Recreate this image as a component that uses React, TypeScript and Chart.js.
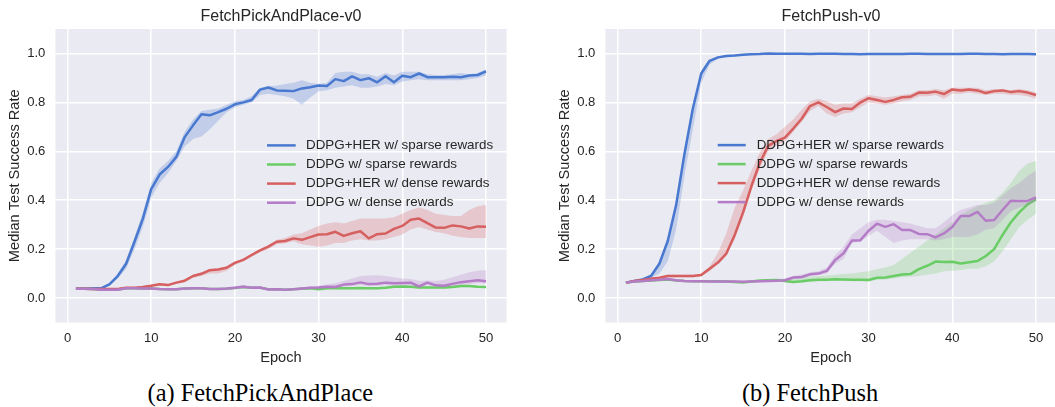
import React, { useEffect, useRef } from 'react';
import { Chart, registerables } from 'chart.js';

Chart.register(...registerables);

const SANS = "'Liberation Sans', Arial, Helvetica, sans-serif";
const SERIF = "'Liberation Serif', 'Times New Roman', Times, serif";
const TEXT = '#262626';

// ---------- data ----------
const epochs = Array.from({ length: 50 }, (_, i) => i + 1);
const seriesLabels = [
  'DDPG+HER w/ sparse rewards',
  'DDPG w/ sparse rewards',
  'DDPG+HER w/ dense rewards',
  'DDPG w/ dense rewards',
];
const seriesColors = ['#4878CF', '#6ACC65', '#D65F5F', '#B47CC7'];
const xTickValues = [0, 10, 20, 30, 40, 50];
const yTickValues = [0, 0.2, 0.4, 0.6, 0.8, 1.0];
const panelTitles = ['FetchPickAndPlace-v0', 'FetchPush-v0'];
const panelCaptions = ['(a) FetchPickAndPlace', '(b) FetchPush'];
const xAxisLabel = 'Epoch';
const yAxisLabel = 'Median Test Success Rate';

// FetchPickAndPlace
const pickHerSparse = [
  0.039, 0.040, 0.040, 0.040, 0.056, 0.090, 0.140, 0.230, 0.325, 0.445,
  0.505, 0.536, 0.577, 0.658, 0.706, 0.751, 0.747, 0.760, 0.774, 0.792,
  0.800, 0.810, 0.852, 0.861, 0.849, 0.848, 0.846, 0.857, 0.862, 0.869,
  0.867, 0.895, 0.887, 0.906, 0.891, 0.899, 0.882, 0.907, 0.882, 0.909,
  0.903, 0.918, 0.903, 0.903, 0.903, 0.905, 0.903, 0.910, 0.912, 0.927,
];
const pickHerSparseLo = [
  0.036, 0.037, 0.037, 0.037, 0.050, 0.080, 0.120, 0.200, 0.290, 0.410,
  0.470, 0.510, 0.560, 0.620, 0.650, 0.660, 0.690, 0.725, 0.760, 0.780,
  0.790, 0.800, 0.830, 0.835, 0.830, 0.825, 0.815, 0.790, 0.820, 0.845,
  0.850, 0.860, 0.865, 0.870, 0.860, 0.860, 0.865, 0.875, 0.870, 0.885,
  0.890, 0.895, 0.890, 0.890, 0.890, 0.890, 0.890, 0.895, 0.900, 0.910,
];
const pickHerSparseHi = [
  0.042, 0.043, 0.043, 0.044, 0.060, 0.100, 0.155, 0.250, 0.350, 0.470,
  0.530, 0.560, 0.600, 0.680, 0.730, 0.765, 0.770, 0.775, 0.790, 0.805,
  0.810, 0.825, 0.860, 0.867, 0.868, 0.875, 0.880, 0.890, 0.880, 0.875,
  0.880, 0.920, 0.925, 0.925, 0.915, 0.915, 0.905, 0.920, 0.910, 0.925,
  0.925, 0.925, 0.915, 0.912, 0.912, 0.915, 0.920, 0.915, 0.920, 0.935,
];
const pickDdpgSparse = [
  0.038, 0.038, 0.037, 0.035, 0.035, 0.035, 0.040, 0.040, 0.039, 0.039,
  0.037, 0.036, 0.036, 0.039, 0.040, 0.040, 0.037, 0.037, 0.038, 0.041,
  0.045, 0.042, 0.042, 0.036, 0.036, 0.034, 0.036, 0.038, 0.040, 0.036,
  0.040, 0.040, 0.040, 0.040, 0.041, 0.040, 0.040, 0.042, 0.046, 0.047,
  0.046, 0.043, 0.043, 0.043, 0.043, 0.045, 0.049, 0.049, 0.046, 0.045,
];
const pickDdpgSparseLo = [
  0.035, 0.035, 0.034, 0.032, 0.032, 0.032, 0.036, 0.036, 0.036, 0.036,
  0.034, 0.033, 0.033, 0.035, 0.036, 0.036, 0.034, 0.034, 0.035, 0.037,
  0.040, 0.038, 0.038, 0.033, 0.033, 0.031, 0.033, 0.034, 0.036, 0.033,
  0.036, 0.036, 0.036, 0.036, 0.037, 0.036, 0.036, 0.038, 0.042, 0.043,
  0.042, 0.039, 0.039, 0.039, 0.039, 0.041, 0.044, 0.044, 0.042, 0.041,
];
const pickDdpgSparseHi = [
  0.041, 0.041, 0.040, 0.038, 0.038, 0.038, 0.043, 0.043, 0.042, 0.042,
  0.040, 0.039, 0.039, 0.042, 0.044, 0.044, 0.040, 0.040, 0.041, 0.045,
  0.050, 0.046, 0.046, 0.039, 0.039, 0.037, 0.039, 0.042, 0.044, 0.040,
  0.044, 0.044, 0.044, 0.044, 0.045, 0.044, 0.044, 0.046, 0.050, 0.051,
  0.050, 0.047, 0.047, 0.047, 0.047, 0.049, 0.054, 0.054, 0.050, 0.049,
];
const pickHerDense = [
  0.038, 0.038, 0.037, 0.037, 0.037, 0.037, 0.042, 0.042, 0.045, 0.050,
  0.056, 0.053, 0.063, 0.071, 0.090, 0.099, 0.114, 0.117, 0.124, 0.144,
  0.156, 0.176, 0.195, 0.210, 0.230, 0.233, 0.244, 0.238, 0.249, 0.260,
  0.261, 0.271, 0.254, 0.265, 0.273, 0.244, 0.261, 0.264, 0.283, 0.295,
  0.320, 0.325, 0.306, 0.288, 0.287, 0.297, 0.293, 0.284, 0.293, 0.291,
];
const pickHerDenseLo = [
  0.035, 0.035, 0.034, 0.034, 0.034, 0.034, 0.038, 0.038, 0.041, 0.046,
  0.052, 0.049, 0.058, 0.065, 0.082, 0.090, 0.100, 0.100, 0.112, 0.135,
  0.150, 0.168, 0.188, 0.200, 0.220, 0.224, 0.232, 0.220, 0.215, 0.210,
  0.215, 0.225, 0.225, 0.235, 0.240, 0.235, 0.235, 0.240, 0.250, 0.260,
  0.280, 0.290, 0.280, 0.270, 0.265, 0.255, 0.250, 0.245, 0.245, 0.245,
];
const pickHerDenseHi = [
  0.041, 0.041, 0.040, 0.040, 0.040, 0.040, 0.046, 0.046, 0.049, 0.054,
  0.060, 0.057, 0.067, 0.077, 0.095, 0.105, 0.120, 0.122, 0.130, 0.150,
  0.162, 0.182, 0.200, 0.218, 0.238, 0.245, 0.260, 0.265, 0.280, 0.295,
  0.305, 0.310, 0.305, 0.315, 0.325, 0.325, 0.325, 0.325, 0.330, 0.345,
  0.360, 0.370, 0.360, 0.345, 0.340, 0.335, 0.335, 0.360, 0.375, 0.380,
];
const pickDdpgDense = [
  0.038, 0.038, 0.037, 0.034, 0.034, 0.034, 0.040, 0.040, 0.039, 0.039,
  0.037, 0.036, 0.036, 0.039, 0.040, 0.040, 0.037, 0.037, 0.039, 0.042,
  0.046, 0.042, 0.043, 0.035, 0.036, 0.034, 0.036, 0.039, 0.042, 0.043,
  0.046, 0.045, 0.055, 0.057, 0.064, 0.057, 0.058, 0.063, 0.060, 0.062,
  0.063, 0.048, 0.063, 0.052, 0.050, 0.058, 0.065, 0.069, 0.073, 0.069,
];
const pickDdpgDenseLo = [
  0.035, 0.035, 0.034, 0.031, 0.031, 0.031, 0.036, 0.036, 0.036, 0.036,
  0.034, 0.033, 0.033, 0.035, 0.036, 0.036, 0.034, 0.034, 0.035, 0.038,
  0.041, 0.038, 0.039, 0.032, 0.033, 0.031, 0.033, 0.035, 0.038, 0.039,
  0.041, 0.040, 0.046, 0.048, 0.053, 0.048, 0.049, 0.052, 0.050, 0.052,
  0.052, 0.042, 0.052, 0.045, 0.044, 0.049, 0.054, 0.057, 0.060, 0.058,
];
const pickDdpgDenseHi = [
  0.041, 0.041, 0.040, 0.037, 0.037, 0.037, 0.044, 0.044, 0.042, 0.042,
  0.040, 0.039, 0.039, 0.042, 0.044, 0.044, 0.040, 0.040, 0.043, 0.048,
  0.053, 0.048, 0.049, 0.039, 0.039, 0.037, 0.039, 0.043, 0.047, 0.050,
  0.055, 0.060, 0.070, 0.080, 0.090, 0.092, 0.093, 0.090, 0.085, 0.080,
  0.078, 0.070, 0.072, 0.070, 0.075, 0.085, 0.095, 0.105, 0.112, 0.115,
];

// FetchPush
const pushHerSparse = [
  0.063, 0.070, 0.076, 0.090, 0.140, 0.233, 0.380, 0.590, 0.775, 0.918,
  0.970, 0.984, 0.990, 0.992, 0.995, 0.997, 0.998, 1.000, 0.999, 0.999,
  0.999, 0.999, 0.998, 0.999, 0.999, 0.999, 0.998, 0.998, 0.997, 0.998,
  0.998, 0.998, 0.998, 0.998, 0.999, 0.999, 0.998, 0.998, 0.998, 0.998,
  0.998, 0.999, 0.999, 0.998, 0.998, 0.997, 0.998, 0.998, 0.998, 0.997,
];
const pushHerSparseLo = [
  0.060, 0.066, 0.072, 0.082, 0.100, 0.150, 0.280, 0.500, 0.690, 0.880,
  0.955, 0.978, 0.986, 0.989, 0.992, 0.994, 0.995, 0.997, 0.996, 0.996,
  0.996, 0.996, 0.995, 0.996, 0.996, 0.996, 0.995, 0.995, 0.994, 0.995,
  0.995, 0.995, 0.995, 0.995, 0.996, 0.996, 0.995, 0.995, 0.995, 0.995,
  0.995, 0.996, 0.996, 0.995, 0.995, 0.994, 0.995, 0.995, 0.995, 0.994,
];
const pushHerSparseHi = [
  0.066, 0.074, 0.080, 0.096, 0.150, 0.245, 0.400, 0.610, 0.790, 0.930,
  0.975, 0.988, 0.993, 0.995, 0.998, 1.000, 1.000, 1.000, 1.000, 1.000,
  1.000, 1.000, 1.000, 1.000, 1.000, 1.000, 1.000, 1.000, 1.000, 1.000,
  1.000, 1.000, 1.000, 1.000, 1.000, 1.000, 1.000, 1.000, 1.000, 1.000,
  1.000, 1.000, 1.000, 1.000, 1.000, 1.000, 1.000, 1.000, 1.000, 1.000,
];
const pushDdpgSparse = [
  0.063, 0.068, 0.070, 0.072, 0.074, 0.076, 0.072, 0.070, 0.069, 0.069,
  0.069, 0.069, 0.068, 0.066, 0.064, 0.068, 0.072, 0.073, 0.074, 0.070,
  0.066, 0.069, 0.073, 0.075, 0.075, 0.077, 0.076, 0.075, 0.075, 0.074,
  0.083, 0.084, 0.090, 0.096, 0.098, 0.118, 0.132, 0.149, 0.147, 0.148,
  0.141, 0.146, 0.151, 0.172, 0.200, 0.258, 0.310, 0.350, 0.383, 0.404,
];
const pushDdpgSparseLo = [
  0.060, 0.065, 0.067, 0.069, 0.071, 0.073, 0.069, 0.067, 0.066, 0.066,
  0.066, 0.066, 0.065, 0.063, 0.061, 0.065, 0.069, 0.070, 0.071, 0.064,
  0.060, 0.063, 0.067, 0.069, 0.069, 0.071, 0.070, 0.069, 0.069, 0.068,
  0.075, 0.076, 0.080, 0.085, 0.087, 0.090, 0.095, 0.100, 0.110, 0.112,
  0.115, 0.120, 0.120, 0.130, 0.150, 0.190, 0.240, 0.290, 0.320, 0.345,
];
const pushDdpgSparseHi = [
  0.066, 0.071, 0.073, 0.075, 0.077, 0.079, 0.075, 0.073, 0.072, 0.072,
  0.072, 0.072, 0.071, 0.069, 0.067, 0.071, 0.075, 0.076, 0.078, 0.080,
  0.080, 0.085, 0.088, 0.090, 0.092, 0.095, 0.098, 0.100, 0.105, 0.110,
  0.118, 0.125, 0.135, 0.160, 0.185, 0.210, 0.235, 0.260, 0.285, 0.310,
  0.340, 0.360, 0.375, 0.390, 0.400, 0.430, 0.470, 0.520, 0.550, 0.560,
];
const pushHerDense = [
  0.063, 0.070, 0.074, 0.079, 0.083, 0.090, 0.090, 0.090, 0.090, 0.094,
  0.120, 0.145, 0.182, 0.258, 0.350, 0.458, 0.553, 0.622, 0.642, 0.656,
  0.693, 0.733, 0.785, 0.800, 0.781, 0.760, 0.775, 0.773, 0.799, 0.817,
  0.810, 0.802, 0.810, 0.821, 0.823, 0.840, 0.839, 0.844, 0.834, 0.853,
  0.849, 0.853, 0.849, 0.838, 0.846, 0.849, 0.842, 0.846, 0.840, 0.830,
];
const pushHerDenseLo = [
  0.060, 0.066, 0.070, 0.075, 0.079, 0.085, 0.085, 0.085, 0.085, 0.089,
  0.110, 0.140, 0.175, 0.240, 0.330, 0.440, 0.530, 0.600, 0.625, 0.640,
  0.680, 0.720, 0.765, 0.785, 0.755, 0.740, 0.755, 0.760, 0.780, 0.800,
  0.795, 0.790, 0.795, 0.805, 0.810, 0.825, 0.825, 0.830, 0.815, 0.835,
  0.835, 0.840, 0.835, 0.830, 0.835, 0.835, 0.830, 0.830, 0.825, 0.815,
];
const pushHerDenseHi = [
  0.066, 0.074, 0.078, 0.083, 0.087, 0.095, 0.095, 0.095, 0.095, 0.099,
  0.130, 0.185, 0.265, 0.370, 0.440, 0.520, 0.595, 0.650, 0.670, 0.700,
  0.730, 0.770, 0.805, 0.815, 0.805, 0.790, 0.795, 0.795, 0.815, 0.830,
  0.825, 0.820, 0.825, 0.830, 0.835, 0.850, 0.850, 0.855, 0.850, 0.860,
  0.860, 0.860, 0.860, 0.850, 0.855, 0.855, 0.850, 0.855, 0.850, 0.840,
];
const pushDdpgDense = [
  0.063, 0.068, 0.070, 0.073, 0.075, 0.078, 0.073, 0.070, 0.069, 0.069,
  0.068, 0.068, 0.068, 0.068, 0.067, 0.068, 0.069, 0.070, 0.071, 0.073,
  0.084, 0.086, 0.097, 0.100, 0.111, 0.155, 0.183, 0.235, 0.236, 0.275,
  0.304, 0.291, 0.302, 0.278, 0.278, 0.262, 0.261, 0.248, 0.264, 0.290,
  0.335, 0.335, 0.352, 0.316, 0.319, 0.360, 0.398, 0.397, 0.397, 0.412,
];
const pushDdpgDenseLo = [
  0.059, 0.064, 0.066, 0.069, 0.071, 0.074, 0.069, 0.066, 0.065, 0.065,
  0.064, 0.064, 0.064, 0.064, 0.063, 0.064, 0.065, 0.066, 0.067, 0.068,
  0.078, 0.080, 0.090, 0.093, 0.100, 0.140, 0.160, 0.225, 0.230, 0.255,
  0.275, 0.250, 0.225, 0.235, 0.240, 0.240, 0.240, 0.235, 0.240, 0.250,
  0.250, 0.250, 0.260, 0.280, 0.285, 0.320, 0.355, 0.370, 0.380, 0.395,
];
const pushDdpgDenseHi = [
  0.067, 0.072, 0.074, 0.077, 0.079, 0.082, 0.077, 0.074, 0.073, 0.073,
  0.072, 0.072, 0.072, 0.072, 0.071, 0.072, 0.073, 0.074, 0.075, 0.078,
  0.090, 0.095, 0.105, 0.110, 0.125, 0.175, 0.210, 0.260, 0.285, 0.310,
  0.320, 0.320, 0.315, 0.310, 0.305, 0.295, 0.285, 0.285, 0.310, 0.340,
  0.360, 0.370, 0.380, 0.380, 0.390, 0.420, 0.450, 0.470, 0.500, 0.520,
];

type Band = { mid: number[]; lo: number[]; hi: number[] };

const pickSeries: Band[] = [
  { mid: pickHerSparse, lo: pickHerSparseLo, hi: pickHerSparseHi },
  { mid: pickDdpgSparse, lo: pickDdpgSparseLo, hi: pickDdpgSparseHi },
  { mid: pickHerDense, lo: pickHerDenseLo, hi: pickHerDenseHi },
  { mid: pickDdpgDense, lo: pickDdpgDenseLo, hi: pickDdpgDenseHi },
];
const pushSeries: Band[] = [
  { mid: pushHerSparse, lo: pushHerSparseLo, hi: pushHerSparseHi },
  { mid: pushDdpgSparse, lo: pushDdpgSparseLo, hi: pushDdpgSparseHi },
  { mid: pushHerDense, lo: pushHerDenseLo, hi: pushHerDenseHi },
  { mid: pushDdpgDense, lo: pushDdpgDenseLo, hi: pushDdpgDenseHi },
];

// ---------- helpers ----------
function rgba(hex: string, a: number) {
  const n = parseInt(hex.slice(1), 16);
  return `rgba(${(n >> 16) & 255},${(n >> 8) & 255},${n & 255},${a})`;
}
function toPoints(vals: number[]) {
  return vals.map((y, i) => ({ x: epochs[i], y }));
}

type LegendPos = { lineX0: number; lineX1: number; textX: number; y0: number; gap: number };

function makeLegendPlugin(pos: LegendPos) {
  return {
    id: 'inlineLegend',
    afterDatasetsDraw(chart: any) {
      const { ctx, chartArea } = chart;
      ctx.save();
      ctx.font = `13.4px ${SANS}`;
      ctx.textBaseline = 'middle';
      ctx.textAlign = 'left';
      seriesLabels.forEach((label, i) => {
        const y = chartArea.top + pos.y0 + i * pos.gap;
        ctx.strokeStyle = seriesColors[i];
        ctx.lineWidth = 2.5;
        ctx.lineCap = 'butt';
        ctx.beginPath();
        ctx.moveTo(chartArea.left + pos.lineX0, y);
        ctx.lineTo(chartArea.left + pos.lineX1, y);
        ctx.stroke();
        ctx.fillStyle = TEXT;
        ctx.fillText(label, chartArea.left + pos.textX, y);
      });
      ctx.restore();
    },
  };
}

const bgPlugin = {
  id: 'plotBg',
  beforeDraw(chart: any) {
    const { ctx, chartArea: a } = chart;
    ctx.save();
    ctx.fillStyle = '#EAEAF2';
    ctx.fillRect(a.left, a.top, a.right - a.left, a.bottom - a.top);
    ctx.restore();
  },
};

const CANVAS_H = 375;
const PLOT_LEFT = 55.4;
const PLOT_BOTTOM = 322.5;
const PLOT_RIGHT = 506.5;

function Panel(props: { title: string; series: Band[]; left: number; width: number; legend: LegendPos }) {
  const ref = useRef<HTMLCanvasElement | null>(null);
  const { title, series, left, width, legend } = props;

  useEffect(() => {
    if (!ref.current) return;
    const datasets: any[] = [];
    series.forEach((s, i) => {
      const color = seriesColors[i];
      const base = (4 - i) * 3;
      const hiIndex = datasets.length;
      datasets.push({
        label: seriesLabels[i] + ' upper',
        data: toPoints(s.hi),
        borderColor: 'rgba(0,0,0,0)',
        borderWidth: 0,
        pointRadius: 0,
        backgroundColor: rgba(color, 0.25),
        fill: hiIndex + 1,
        order: base + 2,
      });
      datasets.push({
        label: seriesLabels[i] + ' lower',
        data: toPoints(s.lo),
        borderColor: 'rgba(0,0,0,0)',
        borderWidth: 0,
        pointRadius: 0,
        fill: false,
        order: base + 1,
      });
      datasets.push({
        label: seriesLabels[i],
        data: toPoints(s.mid),
        borderColor: color,
        borderWidth: 2.5,
        borderJoinStyle: 'round',
        pointRadius: 0,
        fill: false,
        order: base,
      });
    });

    const tickFont = { family: SANS, size: 13.1 };
    const labelFont = { family: SANS, size: 14.6 };

    const chart = new Chart(ref.current, {
      type: 'line',
      data: { datasets },
      options: {
        responsive: false,
        animation: false,
        devicePixelRatio: 1,
        events: [],
        layout: { padding: { left: 0, top: 0, bottom: 0, right: width - PLOT_RIGHT } },
        plugins: {
          legend: { display: false },
          tooltip: { enabled: false },
          title: {
            display: true,
            text: title,
            fullSize: false,
            color: TEXT,
            font: { family: SANS, size: 16, weight: 'normal' },
            padding: { top: 6.6, bottom: 3.2 },
          },
        },
        scales: {
          x: {
            type: 'linear',
            min: -1.45,
            max: 52.45,
            afterBuildTicks: (s: any) => {
              s.ticks = xTickValues.map((v) => ({ value: v }));
            },
            afterFit: (s: any) => {
              s.height = CANVAS_H - PLOT_BOTTOM;
            },
            ticks: {
              autoSkip: false,
              maxRotation: 0,
              padding: 8.5,
              color: TEXT,
              font: tickFont,
              callback: (v: any) => String(v),
            },
            grid: { color: '#FFFFFF', lineWidth: 1.5, drawTicks: false },
            border: { display: false },
            title: {
              display: true,
              text: xAxisLabel,
              color: TEXT,
              font: labelFont,
              padding: { top: 0, bottom: 8.5 },
            },
          },
          y: {
            type: 'linear',
            min: -0.1,
            max: 1.1,
            afterBuildTicks: (s: any) => {
              s.ticks = yTickValues.map((v) => ({ value: v }));
            },
            afterFit: (s: any) => {
              s.width = PLOT_LEFT;
            },
            ticks: {
              autoSkip: false,
              padding: 10,
              color: TEXT,
              font: tickFont,
              callback: (v: any) => Number(v).toFixed(1),
            },
            grid: { color: '#FFFFFF', lineWidth: 1.5, drawTicks: false },
            border: { display: false },
            title: {
              display: true,
              text: yAxisLabel,
              color: TEXT,
              font: labelFont,
              padding: { top: 6.4, bottom: 0 },
            },
          },
        },
      } as any,
      plugins: [bgPlugin, makeLegendPlugin(legend)],
    });
    return () => chart.destroy();
  }, []);

  return (
    <canvas
      ref={ref}
      width={width}
      height={CANVAS_H}
      style={{ position: 'absolute', left, top: 0, width, height: CANVAS_H }}
    />
  );
}

const captionStyle = (center: number): React.CSSProperties => ({
  position: 'absolute',
  left: center - 200,
  width: 400,
  top: 381.3,
  fontFamily: SERIF,
  fontSize: 24.4,
  lineHeight: '24.4px',
  textAlign: 'center',
  color: '#000',
  whiteSpace: 'nowrap',
});

export default function App() {
  return (
    <div
      style={{
        position: 'absolute',
        left: 0,
        top: 0,
        width: 1055,
        height: 407,
        overflow: 'hidden',
        background: '#fff',
      }}
    >
      <Panel
        title={panelTitles[0]}
        series={pickSeries}
        left={0}
        width={550}
        legend={{ lineX0: 211.6, lineX1: 240.3, textX: 250.6, y0: 116.4, gap: 19.1 }}
      />
      <Panel
        title={panelTitles[1]}
        series={pushSeries}
        left={550}
        width={510}
        legend={{ lineX0: 112.3, lineX1: 140.3, textX: 151.3, y0: 116.1, gap: 19.0 }}
      />
      <div style={captionStyle(260.3)}>{panelCaptions[0]}</div>
      <div style={captionStyle(810)}>{panelCaptions[1]}</div>
    </div>
  );
}
